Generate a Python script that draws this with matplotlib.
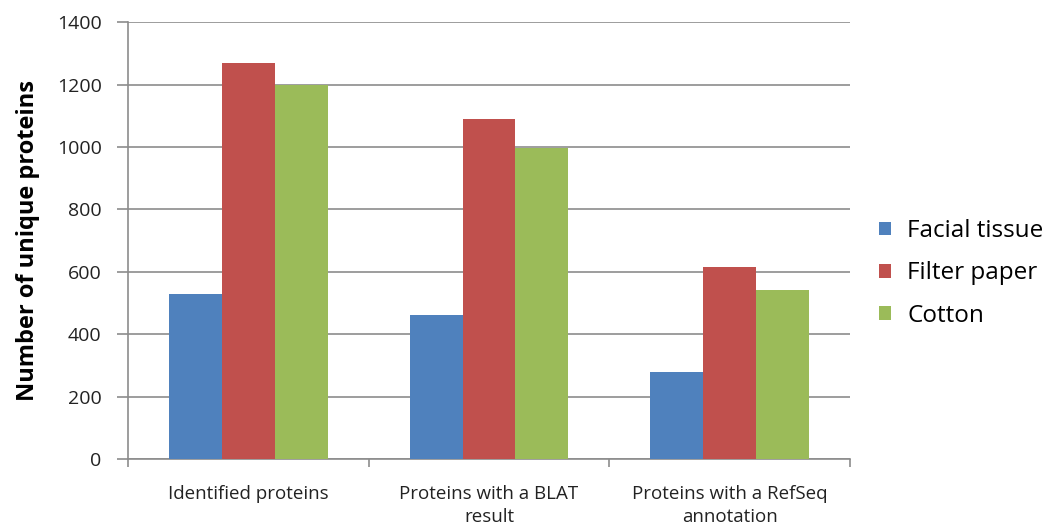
import matplotlib
matplotlib.use("Agg")
import matplotlib.pyplot as plt
import numpy as np

plt.rcParams['font.family'] = ['Open Sans', 'DejaVu Sans']

categories = ["Identified proteins", "Proteins with a BLAT\nresult", "Proteins with a RefSeq\nannotation"]
series_names = ["Facial tissue", "Filter paper", "Cotton"]
facial = [530, 462, 278]
filter_paper = [1268, 1090, 614]
cotton = [1200, 997, 541]
colors = ["#4F81BD", "#C0504D", "#9BBB59"]

fig = plt.figure(figsize=(10.46, 5.26), dpi=100)
ax = fig.add_axes([0.1224, 0.1274, 0.6902, 0.8306])

x = np.arange(len(categories))
w = 0.22
for i, (vals, name) in enumerate(zip([facial, filter_paper, cotton], series_names)):
    ax.bar(x + (i - 1) * w, vals, w, color=colors[i], label=name, zorder=3)

ax.set_xlim(-0.5, 2.5)
ax.set_ylim(0, 1400)
ax.set_yticks(range(0, 1401, 200))
ax.yaxis.grid(True, color="#8c8c8c", linewidth=1.2, zorder=0)

for s in ["top", "right"]:
    ax.spines[s].set_visible(False)
for s in ["left", "bottom"]:
    ax.spines[s].set_color("#8c8c8c")
    ax.spines[s].set_linewidth(1.2)

ax.set_xticks(x)
ax.set_xticklabels(categories, fontsize=13.5, color="#222222", linespacing=1.3)
ax.tick_params(axis="x", which="major", length=0, pad=19)
ax.set_xticks(np.arange(-0.5, 2.6, 1), minor=True)
ax.tick_params(axis="x", which="minor", length=6, color="#8c8c8c", width=1.2)
ax.tick_params(axis="y", length=8, color="#8c8c8c", width=1.2, labelsize=14, labelcolor="#222222", pad=11)

ax.set_ylabel("Number of unique proteins", fontsize=17, fontweight="bold", labelpad=12)

ax.legend(loc="center left", bbox_to_anchor=(1.01, 0.425), frameon=False,
          fontsize=17.5, handlelength=0.5, handleheight=0.5, labelspacing=0.75,
          handletextpad=0.65)

fig.savefig("out.png", dpi=100)
